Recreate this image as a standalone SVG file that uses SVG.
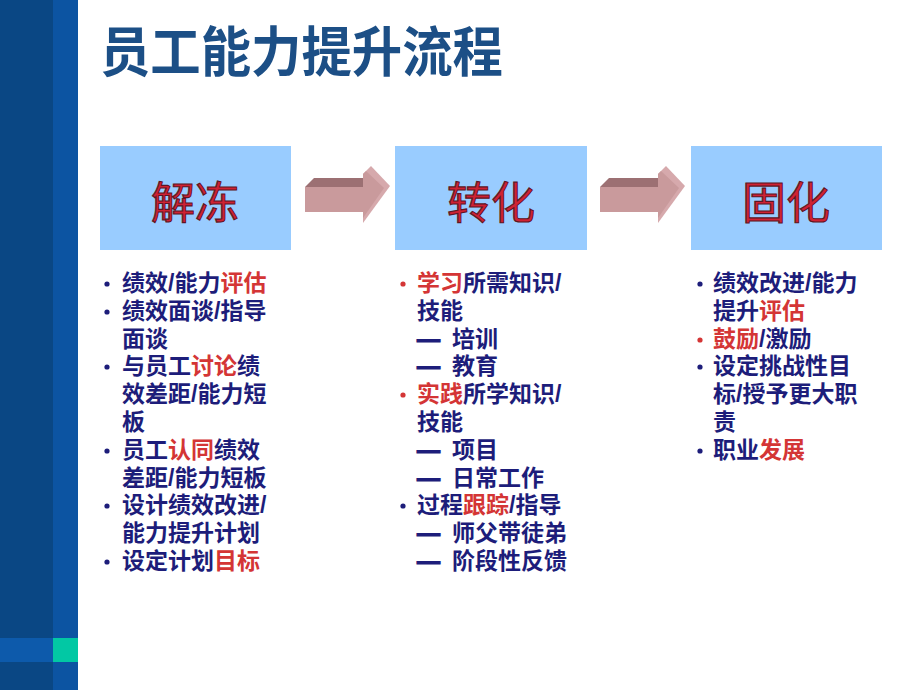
<svg xmlns="http://www.w3.org/2000/svg" xmlns:xlink="http://www.w3.org/1999/xlink" width="920" height="690" viewBox="0 0 920 690">
<style>
.t{font-family:"Liberation Sans","Noto Sans CJK SC",sans-serif;font-size:23px;font-weight:bold;fill:#1d1d7a}
.r{fill:#d43535}
.d{stroke:#1d1d7a;stroke-width:1.2}
.lab{font-family:"Liberation Sans","Noto Sans CJK SC",sans-serif;font-size:44px;fill:#cf2233;stroke:#5e1524;stroke-width:1.1;text-anchor:middle}
.box{fill:#99ccff}
.b{fill:#1d1d7a}
.br{fill:#d43535}
</style>
<defs>
<g id="arr">
<rect x="0" y="0" width="59" height="25" fill="#c99a9c"/>
<polygon points="0,0 9,-9 62,-9 58,0" fill="#9c7073"/>
<polygon points="58,-13 66,-21 85,-1 58,36" fill="#d6a9ac"/>
<polygon points="58,-13 61,-16 79,1 58,31" fill="#c99a9c"/>
</g>
</defs>
<rect x="0" y="0" width="920" height="690" fill="#ffffff"/>
<g id="sidebar">
<rect x="0" y="0" width="53" height="690" fill="#0a4784"/>
<rect x="53" y="0" width="25" height="690" fill="#0c54a2"/>
<rect x="0" y="638" width="53" height="24" fill="#0d5aab"/>
<rect x="53" y="638" width="25" height="24" fill="#02c8a4"/>
</g>
<text x="100" y="72" font-family="Liberation Sans, Noto Sans CJK SC, sans-serif" font-size="54" font-weight="bold" fill="#1c4f86" textLength="403" lengthAdjust="spacingAndGlyphs">员工能力提升流程</text>
<g id="connectors">
<use xlink:href="#arr" transform="translate(305,187)"/>
<use xlink:href="#arr" transform="translate(600,187)"/>
</g>
<g id="node-unfreeze">
<rect class="box" x="100" y="146" width="191" height="104"/>
<text class="lab" x="195" y="219">解冻</text>
</g>
<g id="node-transform">
<rect class="box" x="395" y="146" width="192" height="104"/>
<text class="lab" x="491" y="219">转化</text>
</g>
<g id="node-solidify">
<rect class="box" x="691" y="146" width="191" height="104"/>
<text class="lab" x="786" y="219">固化</text>
</g>
<g id="list-unfreeze">
<circle class="b" cx="107" cy="284" r="2.6"/>
<text class="t" x="122" y="291">绩效/能力<tspan class="r">评估</tspan></text>
<circle class="b" cx="107" cy="312" r="2.6"/>
<text class="t" x="122" y="319">绩效面谈/指导</text>
<text class="t" x="122" y="347">面谈</text>
<circle class="b" cx="107" cy="367" r="2.6"/>
<text class="t" x="122" y="374">与员工<tspan class="r">讨论</tspan>绩</text>
<text class="t" x="122" y="402">效差距/能力短</text>
<text class="t" x="122" y="430">板</text>
<circle class="b" cx="107" cy="451" r="2.6"/>
<text class="t" x="122" y="458">员工<tspan class="r">认同</tspan>绩效</text>
<text class="t" x="122" y="486">差距/能力短板</text>
<circle class="b" cx="107" cy="506" r="2.6"/>
<text class="t" x="122" y="513">设计绩效改进/</text>
<text class="t" x="122" y="541">能力提升计划</text>
<circle class="b" cx="107" cy="562" r="2.6"/>
<text class="t" x="122" y="569">设定计划<tspan class="r">目标</tspan></text>
</g>
<g id="list-transform">
<circle class="br" cx="403" cy="284" r="2.6"/>
<text class="t" x="417" y="291"><tspan class="r">学习</tspan>所需知识/</text>
<text class="t" x="417" y="319">技能</text>
<text class="t" x="417" y="347"><tspan class="d">—</tspan> <tspan x="452">培训</tspan></text>
<text class="t" x="417" y="374"><tspan class="d">—</tspan> <tspan x="452">教育</tspan></text>
<circle class="br" cx="403" cy="395" r="2.6"/>
<text class="t" x="417" y="402"><tspan class="r">实践</tspan>所学知识/</text>
<text class="t" x="417" y="430">技能</text>
<text class="t" x="417" y="458"><tspan class="d">—</tspan> <tspan x="452">项目</tspan></text>
<text class="t" x="417" y="486"><tspan class="d">—</tspan> <tspan x="452">日常工作</tspan></text>
<circle class="b" cx="403" cy="506" r="2.6"/>
<text class="t" x="417" y="513">过程<tspan class="r">跟踪</tspan>/指导</text>
<text class="t" x="417" y="541"><tspan class="d">—</tspan> <tspan x="452">师父带徒弟</tspan></text>
<text class="t" x="417" y="569"><tspan class="d">—</tspan> <tspan x="452">阶段性反馈</tspan></text>
</g>
<g id="list-solidify">
<circle class="b" cx="700" cy="284" r="2.6"/>
<text class="t" x="713" y="291">绩效改进/能力</text>
<text class="t" x="713" y="319">提升<tspan class="r">评估</tspan></text>
<circle class="br" cx="700" cy="340" r="2.6"/>
<text class="t" x="713" y="347"><tspan class="r">鼓励</tspan>/激励</text>
<circle class="b" cx="700" cy="367" r="2.6"/>
<text class="t" x="713" y="374">设定挑战性目</text>
<text class="t" x="713" y="402">标/授予更大职</text>
<text class="t" x="713" y="430">责</text>
<circle class="b" cx="700" cy="451" r="2.6"/>
<text class="t" x="713" y="458">职业<tspan class="r">发展</tspan></text>
</g>
</svg>
